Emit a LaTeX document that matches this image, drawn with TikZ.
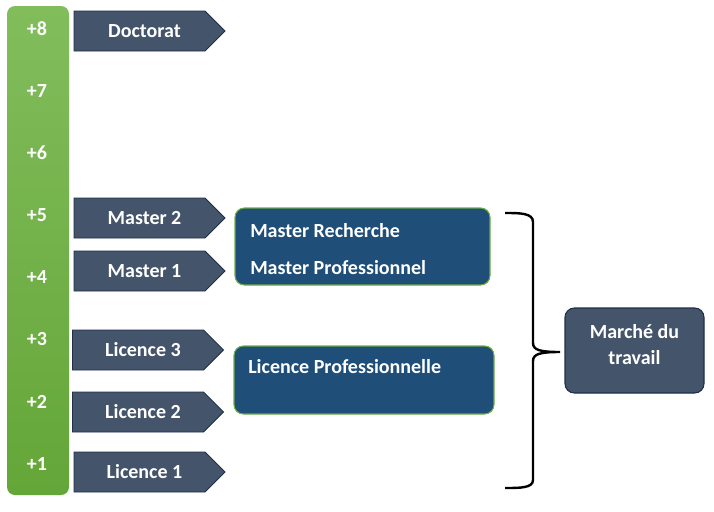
\documentclass[tikz,border=0pt]{standalone}
\usepackage{fontspec}
\setmainfont{Carlito}
\usetikzlibrary{shapes.symbols}
\definecolor{slate}{HTML}{44546A}
\definecolor{slateline}{HTML}{1F2F4A}
\definecolor{navy}{HTML}{1F4E79}
\definecolor{gtop}{HTML}{82BD5C}
\definecolor{gbot}{HTML}{64A638}
\definecolor{gline}{HTML}{70AD47}
\tikzset{
  lvl/.style={text=white,font=\bfseries\fontsize{15}{18}\selectfont},
  arrowbox/.style={signal, signal to=east, signal pointer angle=90, fill=slate, draw=slateline, line width=0.6pt,
     minimum width=113.25pt, minimum height=30pt, inner sep=0pt, text=white, font=\bfseries\fontsize{15}{18}\selectfont,
     execute at begin node=\hspace*{7.5pt}},
  bluebox/.style={rectangle, rounded corners=7pt, fill=navy, draw=gline, line width=0.8pt},
  btext/.style={anchor=west, text=white, font=\bfseries\fontsize{15}{18}\selectfont, inner sep=0pt},
  marche/.style={rectangle, rounded corners=7pt, fill=slate, draw=slateline, line width=0.8pt,
     minimum width=104.25pt, minimum height=63.75pt},
  mtext/.style={align=center, text=white, inner sep=0pt, font=\bfseries\fontsize{15}{19.5}\selectfont},
}
\begin{document}
\begin{tikzpicture}[x=0.75pt,y=-0.75pt]
\useasboundingbox (0,0) rectangle (714,511);
% green bar
\shade[top color=gtop, bottom color=gbot, rounded corners=6pt] (7,6) rectangle (69,495);
\node[lvl] (l8) at (37,29) {+8};
\node[lvl] (l7) at (37,91) {+7};
\node[lvl] (l6) at (37,153) {+6};
\node[lvl] (l5) at (37,215) {+5};
\node[lvl] (l4) at (37,277) {+4};
\node[lvl] (l3) at (37,339) {+3};
\node[lvl] (l2) at (37,402) {+2};
\node[lvl] (l1) at (37,464) {+1};
% arrows
\node[arrowbox] (doc) at (139.5,31) {Doctorat};
\node[arrowbox] (m2) at (139.5,218) {Master 2};
\node[arrowbox] (m1) at (139.5,271) {Master 1};
\node[arrowbox] (li3) at (138,350) {Licence 3};
\node[arrowbox] (li2) at (138,412) {Licence 2};
\node[arrowbox] (li1) at (139.5,472) {Licence 1};
% blue boxes
\node[bluebox, minimum width=191.25pt, minimum height=57.75pt] (mbox) at (362.5,246.5) {};
\node[btext] (mr) at (250,231) {Master Recherche};
\node[btext] (mp) at (250,268) {Master Professionnel};
\node[bluebox, minimum width=195pt, minimum height=51pt] (lbox) at (364,380) {};
\node[btext] (lp) at (248,367) {Licence Professionnelle};
% brace
\coordinate (bt) at (505,213);
\coordinate (bb) at (505,488);
\coordinate (btip) at (560,352);
\draw[line width=1.8pt, black]
  (bt) .. controls (520,213) and (533,213) .. (533,222)
  -- (533,343) .. controls (533,350) and (540,352) .. (btip)
  .. controls (540,352) and (533,354) .. (533,361)
  -- (533,480) .. controls (533,488) and (520,488) .. (bb);
% marche
\node[marche] (mt) at (634.5,350.5) {};
\node[mtext] (mtl) at (634.5,345) {Marché du\\travail};
\end{tikzpicture}
\end{document}
